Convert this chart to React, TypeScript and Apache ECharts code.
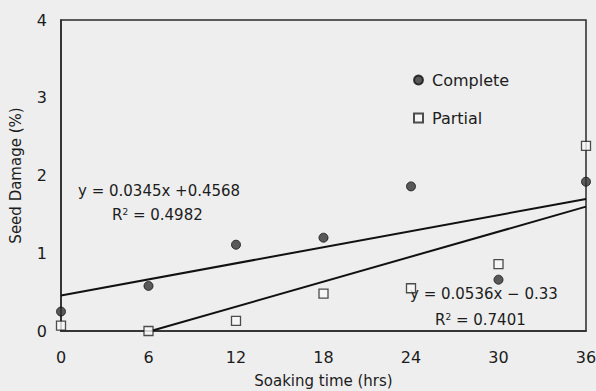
import React, { useEffect, useRef } from "react";
import * as echarts from "echarts";

const soakHours = [0, 6, 12, 18, 24, 30, 36];
const completeDamage = [0.25, 0.58, 1.11, 1.2, 1.86, 0.66, 1.92];
const partialDamage = [0.07, 0.0, 0.13, 0.48, 0.55, 0.86, 2.38];
const completeFit = { slope: 0.0345, intercept: 0.4568, r2: "0.4982" };
const partialFit = { slope: 0.0536, intercept: -0.33, r2: "0.7401" };
const xTicks = { min: 0, max: 36, interval: 6 };
const yTicks = { min: 0, max: 4, interval: 1 };

const FONT = "'DejaVu Sans', sans-serif";
const INK = "#1c1c1c";

export default function App() {
  const ref = useRef<HTMLDivElement>(null);
  useEffect(() => {
    document.body.style.margin = "0";
    const chart = echarts.init(ref.current!, null, { renderer: "svg" });
    const pCompleteStart = [0, completeFit.intercept];
    const pCompleteEnd = [36, completeFit.slope * 36 + completeFit.intercept];
    const partialZero = -partialFit.intercept / partialFit.slope;
    const pPartialStart = [partialZero, 0];
    const pPartialEnd = [36, partialFit.slope * 36 + partialFit.intercept];

    chart.setOption({
      animation: false,
      backgroundColor: "#eeeeee",
      textStyle: { fontFamily: FONT },
      grid: {
        left: 61,
        right: 10,
        top: 20,
        bottom: 60,
        containLabel: false,
        outerBoundsMode: "none",
        show: true,
        borderColor: "#2a2a2a",
        borderWidth: 1.5,
      },
      xAxis: {
        type: "value",
        min: xTicks.min,
        max: xTicks.max,
        interval: xTicks.interval,
        name: "Soaking time (hrs)",
        nameLocation: "middle",
        nameGap: 42,
        nameTextStyle: { fontSize: 15, color: INK, fontFamily: FONT },
        axisLine: { show: true, lineStyle: { color: "#2a2a2a", width: 1.5 } },
        axisTick: { show: false },
        splitLine: { show: false },
        axisLabel: { fontSize: 16, color: INK, margin: 18, fontFamily: FONT },
      },
      yAxis: {
        type: "value",
        min: yTicks.min,
        max: yTicks.max,
        interval: yTicks.interval,
        name: "Seed Damage (%)",
        nameLocation: "middle",
        nameGap: 38,
        nameRotate: 90,
        nameTextStyle: { fontSize: 15, color: INK, fontFamily: FONT },
        axisLine: { show: true, lineStyle: { color: "#2a2a2a", width: 1.5 } },
        axisTick: { show: false },
        splitLine: { show: false },
        axisLabel: { fontSize: 16, color: INK, margin: 14, fontFamily: FONT },
      },
      legend: {
        orient: "vertical",
        left: 413,
        top: 72,
        padding: 0,
        itemGap: 22,
        itemWidth: 9,
        itemHeight: 9,
        textStyle: { fontSize: 16, color: INK, fontFamily: FONT, padding: [0, 0, 0, 4] },
        data: ["Complete", "Partial"],
      },
      series: [
        {
          name: "Complete fit",
          type: "line",
          data: [pCompleteStart, pCompleteEnd],
          symbol: "none",
          lineStyle: { color: "#111", width: 2 },
          silent: true,
          z: 1,
        },
        {
          name: "Partial fit",
          type: "line",
          data: [pPartialStart, pPartialEnd],
          symbol: "none",
          lineStyle: { color: "#111", width: 2 },
          silent: true,
          z: 1,
        },
        {
          name: "Complete",
          type: "scatter",
          data: soakHours.map((h, i) => [h, completeDamage[i]]),
          symbol: "circle",
          symbolSize: 9,
          itemStyle: { color: "#333", borderColor: "#111", borderWidth: 1 },
          clip: false,
          z: 3,
        },
        {
          name: "Partial",
          type: "scatter",
          data: soakHours.map((h, i) => [h, partialDamage[i]]),
          symbol: "rect",
          symbolSize: 9,
          itemStyle: { color: "#f7f7f7", borderColor: "#222", borderWidth: 1.3 },
          clip: false,
          z: 3,
        },
      ],
      graphic: [
        {
          type: "text",
          left: 78,
          top: 183,
          style: {
            text: `y = ${completeFit.slope}x +${completeFit.intercept}`,
            fontSize: 15,
            fill: INK,
            fontFamily: FONT,
          },
        },
        {
          type: "text",
          left: 112,
          top: 207,
          style: {
            rich: { s: { fontSize: 9, verticalAlign: "top", fill: INK, fontFamily: FONT } },
            text: `R{s|2} = ${completeFit.r2}`,
            fontSize: 15,
            fill: INK,
            fontFamily: FONT,
          },
        },
        {
          type: "text",
          left: 410,
          top: 286,
          style: {
            text: `y = ${partialFit.slope}x − ${Math.abs(partialFit.intercept)}`,
            fontSize: 15,
            fill: INK,
            fontFamily: FONT,
          },
        },
        {
          type: "text",
          left: 435,
          top: 312,
          style: {
            rich: { s: { fontSize: 9, verticalAlign: "top", fill: INK, fontFamily: FONT } },
            text: `R{s|2} = ${partialFit.r2}`,
            fontSize: 15,
            fill: INK,
            fontFamily: FONT,
          },
        },
      ],
    });
    return () => chart.dispose();
  }, []);
  return <div ref={ref} style={{ width: 596, height: 391 }} />;
}
